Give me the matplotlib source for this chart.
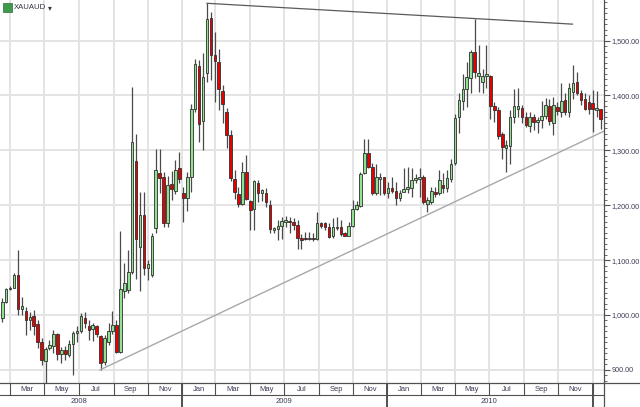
import numpy as np
import pandas as pd
import matplotlib
matplotlib.use('Agg')
import matplotlib.pyplot as plt
import matplotlib.dates as mdates
from matplotlib.ticker import MultipleLocator, FuncFormatter
from matplotlib.patches import Rectangle
from matplotlib.lines import Line2D

plt.rcParams['font.family'] = ['Liberation Sans', 'DejaVu Sans']

# weekly XAUAUD candles, Feb 2008 - Jan 2011
dates = pd.date_range('2008-02-16', periods=153, freq='7D')
opens = [994, 1024, 1047, 1050, 1072, 1011, 1007, 990, 999, 983, 950, 916, 940, 944, 965, 928, 937, 927, 947, 968,
         971, 994, 980, 975, 979, 962, 914, 951, 970, 982, 932, 1044, 1045, 1079, 1281, 1124, 1182, 1085, 1073, 1159,
         1258, 1251, 1168, 1239, 1226, 1267, 1223, 1214, 1251, 1376, 1454, 1354, 1441, 1542, 1474, 1461, 1409, 1369, 1328, 1247,
         1220, 1203, 1261, 1208, 1194, 1240, 1223, 1222, 1200, 1154, 1157, 1163, 1169, 1171, 1169, 1164, 1141, 1141, 1138, 1141,
         1138, 1167, 1168, 1161, 1143, 1158, 1161, 1149, 1144, 1162, 1194, 1199, 1258, 1296, 1269, 1222, 1247, 1251, 1222, 1231,
         1225, 1213, 1225, 1229, 1232, 1246, 1248, 1252, 1203, 1206, 1225, 1222, 1237, 1231, 1248, 1277, 1360, 1390, 1411, 1432,
         1480, 1436, 1424, 1435, 1435, 1381, 1373, 1330, 1305, 1308, 1360, 1375, 1378, 1360, 1344, 1360, 1352, 1355, 1362, 1381,
         1349, 1379, 1370, 1392, 1369, 1406, 1425, 1404, 1393, 1388, 1387, 1373, 1375]
highs = [1030, 1050, 1052, 1076, 1118, 1033, 1015, 1006, 1009, 991, 958, 942, 954, 973, 967, 942, 944, 954, 970, 979,
         1004, 1006, 991, 986, 982, 964, 963, 985, 1008, 990, 1153, 1095, 1118, 1416, 1330, 1225, 1225, 1100, 1150, 1303,
         1303, 1260, 1254, 1263, 1282, 1297, 1234, 1260, 1384, 1467, 1465, 1478, 1568, 1553, 1515, 1485, 1420, 1378, 1337, 1264,
         1233, 1279, 1291, 1209, 1246, 1246, 1230, 1231, 1209, 1161, 1173, 1179, 1180, 1178, 1176, 1173, 1148, 1152, 1152, 1149,
         1188, 1170, 1170, 1167, 1176, 1179, 1173, 1152, 1170, 1209, 1207, 1261, 1320, 1320, 1277, 1275, 1258, 1252, 1242, 1252,
         1243, 1227, 1267, 1270, 1267, 1257, 1267, 1255, 1215, 1234, 1234, 1264, 1258, 1264, 1285, 1367, 1404, 1440, 1461, 1483,
         1540, 1492, 1449, 1492, 1437, 1388, 1379, 1334, 1318, 1373, 1411, 1413, 1382, 1370, 1370, 1367, 1361, 1390, 1395, 1393,
         1398, 1388, 1422, 1404, 1422, 1455, 1443, 1410, 1404, 1401, 1410, 1409, 1376]
lows = [988, 1021, 1045, 1049, 1000, 1000, 964, 973, 964, 939, 909, 875, 936, 930, 918, 912, 918, 924, 891, 951,
        967, 976, 954, 952, 960, 900, 909, 945, 965, 930, 930, 1030, 1040, 1075, 1065, 1044, 1073, 1063, 1070, 1150,
        1223, 1160, 1160, 1210, 1220, 1240, 1170, 1190, 1225, 1370, 1315, 1300, 1425, 1428, 1388, 1374, 1350, 1305, 1245, 1212,
        1197, 1200, 1209, 1155, 1154, 1206, 1207, 1197, 1149, 1149, 1137, 1138, 1160, 1150, 1155, 1120, 1120, 1136, 1136, 1134,
        1136, 1158, 1155, 1140, 1141, 1155, 1143, 1143, 1143, 1161, 1191, 1197, 1257, 1267, 1219, 1219, 1219, 1219, 1213, 1222,
        1200, 1207, 1224, 1222, 1215, 1240, 1215, 1203, 1188, 1203, 1215, 1219, 1222, 1225, 1243, 1273, 1331, 1373, 1379, 1404,
        1431, 1407, 1404, 1413, 1358, 1352, 1320, 1285, 1261, 1276, 1349, 1360, 1349, 1342, 1334, 1337, 1331, 1340, 1358, 1346,
        1328, 1364, 1361, 1364, 1361, 1393, 1401, 1382, 1373, 1366, 1334, 1360, 1338]
closes = [1023, 1047, 1050, 1072, 1010, 1016, 991, 997, 980, 950, 918, 938, 945, 965, 928, 937, 929, 947, 967, 971,
          999, 986, 973, 981, 965, 912, 958, 970, 982, 932, 1047, 1058, 1079, 1316, 1138, 1182, 1085, 1092, 1144, 1265,
          1249, 1168, 1237, 1229, 1265, 1248, 1214, 1251, 1376, 1457, 1348, 1433, 1539, 1474, 1463, 1411, 1384, 1328, 1249, 1225,
          1202, 1261, 1212, 1191, 1244, 1223, 1227, 1205, 1156, 1158, 1163, 1171, 1173, 1169, 1164, 1141, 1136, 1138, 1140, 1138,
          1167, 1162, 1161, 1142, 1161, 1161, 1148, 1144, 1162, 1193, 1200, 1257, 1296, 1269, 1222, 1251, 1252, 1222, 1231, 1226,
          1214, 1223, 1230, 1234, 1246, 1250, 1252, 1205, 1209, 1226, 1220, 1246, 1231, 1249, 1276, 1359, 1392, 1411, 1433, 1480,
          1443, 1441, 1436, 1440, 1381, 1373, 1326, 1307, 1310, 1361, 1381, 1380, 1360, 1346, 1360, 1352, 1356, 1362, 1382, 1353,
          1383, 1372, 1390, 1369, 1414, 1423, 1405, 1392, 1376, 1376, 1376, 1378, 1357]

# trendlines drawn on the chart
top_line_dates = ['2009-02-14', '2010-11-26']
top_line_prices = [1568, 1530]
bottom_line_dates = ['2008-08-08', '2011-01-23']
bottom_line_prices = [900, 1336]

year_labels = ['2008', '2009', '2010']

W, H = 640, 407
fig = plt.figure(figsize=(W / 100, H / 100), dpi=100)
ax = fig.add_axes([0, 24 / H, 604 / W, 383 / H])

x = mdates.date2num(dates)
x0 = mdates.date2num(pd.Timestamp('2008-02-12'))
x1 = mdates.date2num(pd.Timestamp('2011-01-21'))
ax.set_xlim(x0, x1)
ax.set_ylim(876, 1574)

# grid: every 2 months and every 100
grid_dates = pd.date_range('2008-03-01', '2011-01-01', freq='2MS')
for g in mdates.date2num(grid_dates):
    ax.axvline(g, color='#e4e4e4', lw=1.4, zorder=0)
for p in range(900, 1600, 100):
    ax.axhline(p, color='#e4e4e4', lw=1.4, zorder=0)

# candles
w = 4.6
for i in range(len(x)):
    o, h, l, c = opens[i], highs[i], lows[i], closes[i]
    col = '#8fe08f' if c >= o else '#e60000'
    ax.vlines(x[i], l, h, color='#4a4a4a', lw=0.9, zorder=2)
    ax.add_patch(Rectangle((x[i] - w / 2, min(o, c)), w, max(abs(c - o), 1.5),
                           facecolor=col, edgecolor='#2f2f2f', lw=0.6, zorder=3))

ax.plot(mdates.date2num(pd.to_datetime(top_line_dates)), top_line_prices, color='#5a5a5a', lw=0.9, zorder=4)
ax.plot(mdates.date2num(pd.to_datetime(bottom_line_dates)), bottom_line_prices, color='#a8a8a8', lw=1.0, zorder=4)

# right price axis
for s in ['top', 'left', 'bottom']:
    ax.spines[s].set_visible(False)
ax.spines['right'].set_color('#505050')
ax.spines['right'].set_linewidth(0.9)
ax.yaxis.tick_right()
ax.yaxis.set_major_locator(MultipleLocator(100))
ax.yaxis.set_minor_locator(MultipleLocator(10))
ax.yaxis.set_major_formatter(FuncFormatter(lambda v, pos: '{:,.2f}'.format(v)))
ax.tick_params(axis='y', which='major', length=4, width=0.8, color='#505050',
               labelsize=5.2, labelcolor='#3e3a55', pad=1.5)
ax.tick_params(axis='y', which='minor', length=2, width=0.6, color='#505050')
ax.set_xticks([])

# date axis under the chart (months row + years row)
axd = fig.add_axes([0, 0, 604 / W, 24 / H])
axd.set_xlim(x0, x1)
axd.set_ylim(0, 1)
axd.axis('off')
bounds = pd.date_range('2008-01-01', '2011-01-01', freq='2MS')
bx = mdates.date2num(bounds)
for b in bx:
    axd.plot([b, b], [0.5, 1], color='#505050', lw=0.8)
for i in range(len(bx) - 1):
    t = axd.text((bx[i] + bx[i + 1]) / 2, 0.74, bounds[i].strftime('%b'), ha='center', va='center',
                 fontsize=5.5, color='#3e3a55')
    t.set_clip_on(True)
for yb in ['2009-01-01', '2010-01-01', '2011-01-01']:
    b = mdates.date2num(pd.Timestamp(yb))
    axd.plot([b, b], [0, 1], color='#505050', lw=1.4)
for lab in year_labels:
    axd.text(mdates.date2num(pd.Timestamp(lab + '-07-01')), 0.24, lab, ha='center', va='center',
             fontsize=5.5, color='#3e3a55')
axd.axhline(0.5, color='#505050', lw=0.8)

fig.add_artist(Line2D([0, 1], [24 / H, 24 / H], color='#505050', lw=0.9))
fig.add_artist(Line2D([604 / W, 604 / W], [0, 24 / H], color='#505050', lw=0.9))

# symbol label top-left
fig.add_artist(Rectangle((3 / W, 1 - 12 / H), 9 / W, 9 / H, facecolor='#3f9a4a', edgecolor='#2d6e35', lw=0.5))
fig.text(14 / W, 1 - 7.5 / H, 'XAUAUD', fontsize=5.6, color='#333344', va='center')
fig.text(48 / W, 1 - 7.5 / H, '\u25be', fontsize=5.5, color='#333344', va='center',
         family='DejaVu Sans')

fig.savefig('out.png', dpi=100, facecolor='white')
